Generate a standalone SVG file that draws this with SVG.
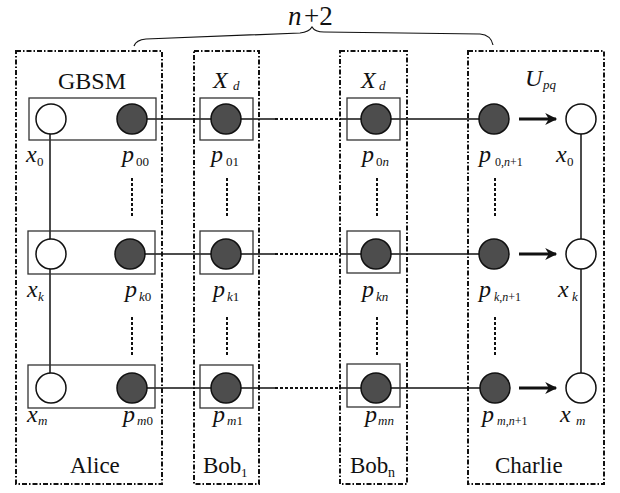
<svg xmlns="http://www.w3.org/2000/svg" width="620" height="493" viewBox="0 0 620 493">
<style>
text{font-family:'Liberation Serif','Times New Roman',serif;fill:#111}
.it{font-style:italic}
.lab{font-size:24px;font-style:italic}
.sub{font-size:13px}
.big{font-size:23px}
.panel{fill:none;stroke:#111;stroke-width:2;stroke-dasharray:5 2 1.5 2}
.row{fill:none;stroke:#333;stroke-width:1.3}
.dk{fill:#4d4d4d;stroke:#111;stroke-width:1.5}
.wh{fill:#fff;stroke:#111;stroke-width:1.5}
.ln{stroke:#111;stroke-width:1.5;fill:none}
.dl{stroke:#111;stroke-width:1.8;stroke-dasharray:3 2;fill:none}
.vd{stroke:#111;stroke-width:2;stroke-dasharray:3 2;fill:none}
.arr{stroke:#111;stroke-width:3;fill:none}
</style>
<defs>
<marker id="ah" viewBox="0 0 10 10" refX="9" refY="5" markerWidth="4.5" markerHeight="4" markerUnits="strokeWidth" orient="auto">
<path d="M0,0 L10,5 L0,10 L3,5 Z" fill="#111"/>
</marker>
</defs>

<g id="brace">
<path class="ln" style="stroke-width:1.2" d="M134,46 Q136,40 146,39 L300,33 Q309,32 312,27 Q315,32 324,32 L480,34 Q491,35 493,45"/>
<text x="288" y="25" font-size="27" class="it">n</text>
<text x="304" y="25" font-size="27">+2</text>
</g>

<g id="panels">
<g id="alice"><rect class="panel" x="16" y="51" width="146" height="433"/>
<text x="92" y="89" font-size="24" text-anchor="middle">GBSM</text>
<text x="70" y="473" class="big">Alice</text></g>
<g id="bob1"><rect class="panel" x="194" y="51" width="65" height="433"/>
<text x="213" y="88" class="lab">X</text><text x="233" y="90" class="sub it">d</text>
<text x="203" y="473" class="big">Bob</text><text x="241" y="477" class="sub">1</text></g>
<g id="bobn"><rect class="panel" x="340" y="51" width="67" height="433"/>
<text x="361" y="88" class="lab">X</text><text x="379" y="90" class="sub it">d</text>
<text x="350" y="473" class="big">Bob</text><text x="388" y="477" font-size="14">n</text></g>
<g id="charlie"><rect class="panel" x="468" y="51" width="136" height="433"/>
<text x="525" y="86" class="lab">U</text><text x="543" y="89" class="sub it">pq</text>
<text x="495" y="473" class="big">Charlie</text></g>
</g>

<g id="connectors">
<line class="ln" x1="50" y1="119" x2="50" y2="387"/>
<line class="ln" x1="581" y1="119" x2="581" y2="387"/>
<g id="row1-links">
<line class="ln" x1="132" y1="119" x2="275" y2="119"/>
<line class="dl" x1="275" y1="119" x2="341" y2="119"/>
<line class="ln" x1="341" y1="119" x2="494" y2="119"/>
<line class="arr" x1="519" y1="119" x2="556" y2="119" marker-end="url(#ah)"/>
</g>
<g id="row2-links">
<line class="ln" x1="132" y1="254" x2="275" y2="254"/>
<line class="dl" x1="275" y1="254" x2="341" y2="254"/>
<line class="ln" x1="341" y1="254" x2="494" y2="254"/>
<line class="arr" x1="519" y1="254" x2="556" y2="254" marker-end="url(#ah)"/>
</g>
<g id="row3-links">
<line class="ln" x1="132" y1="388" x2="275" y2="388"/>
<line class="dl" x1="275" y1="388" x2="341" y2="388"/>
<line class="ln" x1="341" y1="388" x2="494" y2="388"/>
<line class="arr" x1="519" y1="388" x2="556" y2="388" marker-end="url(#ah)"/>
</g>
<g id="ellipsis">
<line class="vd" x1="132" y1="178" x2="132" y2="218"/>
<line class="vd" x1="227" y1="178" x2="227" y2="218"/>
<line class="vd" x1="377" y1="178" x2="377" y2="218"/>
<line class="vd" x1="495" y1="178" x2="495" y2="218"/>
<line class="vd" x1="132" y1="317" x2="132" y2="355"/>
<line class="vd" x1="227" y1="317" x2="227" y2="355"/>
<line class="vd" x1="377" y1="317" x2="377" y2="355"/>
<line class="vd" x1="495" y1="317" x2="495" y2="355"/>
</g>
</g>

<g id="rows">
<g id="row1">
<rect class="row" x="29" y="98" width="127" height="42"/>
<rect class="row" x="200" y="98" width="53" height="42"/>
<rect class="row" x="347" y="98" width="53" height="42"/>
<circle class="wh" cx="51" cy="119" r="15"/>
<circle class="dk" cx="132" cy="119" r="15"/>
<circle class="dk" cx="226" cy="119" r="15"/>
<circle class="dk" cx="376" cy="119" r="15"/>
<circle class="dk" cx="494" cy="119" r="15"/>
<circle class="wh" cx="581" cy="119" r="15"/>
<text x="26" y="162" class="lab">x</text><text x="37" y="166" class="sub">0</text>
<text x="122" y="162" class="lab">p</text><text x="136" y="166" class="sub">00</text>
<text x="211" y="162" class="lab">p</text><text x="226" y="166" class="sub">01</text>
<text x="362" y="162" class="lab">p</text><text x="376" y="166" class="sub">0<tspan class="it">n</tspan></text>
<text x="479" y="162" class="lab">p</text><text x="495" y="166" font-size="12">0,<tspan class="it">n</tspan>+1</text>
<text x="556" y="162" class="lab">x</text><text x="567" y="166" class="sub">0</text>
</g>
<g id="row2">
<rect class="row" x="28" y="231" width="127" height="43"/>
<rect class="row" x="200" y="231" width="53" height="43"/>
<rect class="row" x="347" y="231" width="53" height="42"/>
<circle class="wh" cx="51" cy="254" r="15"/>
<circle class="dk" cx="130" cy="254" r="15"/>
<circle class="dk" cx="226" cy="254" r="15"/>
<circle class="dk" cx="376" cy="254" r="15"/>
<circle class="dk" cx="494" cy="254" r="15"/>
<circle class="wh" cx="581" cy="254" r="15"/>
<text x="27" y="297" class="lab">x</text><text x="38" y="301" class="sub it">k</text>
<text x="125" y="297" class="lab">p</text><text x="139" y="301" class="sub"><tspan class="it">k</tspan>0</text>
<text x="213" y="297" class="lab">p</text><text x="227" y="301" class="sub"><tspan class="it">k</tspan>1</text>
<text x="362" y="297" class="lab">p</text><text x="376" y="301" class="sub it">kn</text>
<text x="479" y="297" class="lab">p</text><text x="494" y="301" font-size="12"><tspan class="it">k</tspan>,<tspan class="it">n</tspan>+1</text>
<text x="558" y="297" class="lab">x</text><text x="572" y="301" class="sub it">k</text>
</g>
<g id="row3">
<rect class="row" x="28" y="365" width="127" height="43"/>
<rect class="row" x="200" y="365" width="53" height="43"/>
<rect class="row" x="347" y="364" width="53" height="43"/>
<circle class="wh" cx="51" cy="388" r="15"/>
<circle class="dk" cx="132" cy="388" r="15"/>
<circle class="dk" cx="226" cy="388" r="15"/>
<circle class="dk" cx="376" cy="388" r="15"/>
<circle class="dk" cx="495" cy="388" r="15"/>
<circle class="wh" cx="581" cy="388" r="15"/>
<text x="27" y="422" class="lab">x</text><text x="38" y="425" class="sub it">m</text>
<text x="123" y="422" class="lab">p</text><text x="137" y="425" class="sub"><tspan class="it">m</tspan>0</text>
<text x="213" y="422" class="lab">p</text><text x="227" y="425" class="sub"><tspan class="it">m</tspan>1</text>
<text x="365" y="422" class="lab">p</text><text x="378" y="425" class="sub it">mn</text>
<text x="482" y="422" class="lab">p</text><text x="497" y="425" font-size="12"><tspan class="it">m</tspan>,<tspan class="it">n</tspan>+1</text>
<text x="560" y="422" class="lab">x</text><text x="576" y="425" class="sub it">m</text>
</g>
</g>
</svg>
